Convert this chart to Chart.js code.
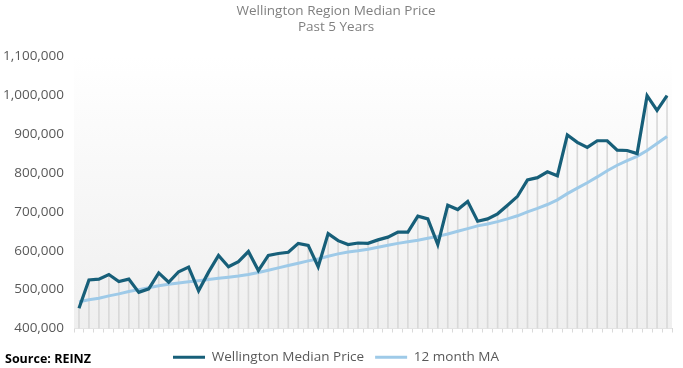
<!DOCTYPE html>
<html>
<head>
<meta charset="utf-8">
<script src="https://cdn.jsdelivr.net/npm/chart.js@4/dist/chart.umd.min.js"></script>
<style>
  html, body { margin: 0; padding: 0; background: #fff; }
  #wrap { position: relative; width: 683px; height: 368px; }
  #source {
    position: absolute; left: 5px; top: 350px;
    font: bold 12.5px "Open Sans", sans-serif; color: #000;
  }
</style>
</head>
<body>
<div id="wrap">
  <canvas id="chart"></canvas>
  <div id="source">Source: REINZ</div>
</div>
<script>
const months = [
  "Apr-16","May-16","Jun-16","Jul-16","Aug-16","Sep-16","Oct-16","Nov-16","Dec-16",
  "Jan-17","Feb-17","Mar-17","Apr-17","May-17","Jun-17","Jul-17","Aug-17","Sep-17","Oct-17","Nov-17","Dec-17",
  "Jan-18","Feb-18","Mar-18","Apr-18","May-18","Jun-18","Jul-18","Aug-18","Sep-18","Oct-18","Nov-18","Dec-18",
  "Jan-19","Feb-19","Mar-19","Apr-19","May-19","Jun-19","Jul-19","Aug-19","Sep-19","Oct-19","Nov-19","Dec-19",
  "Jan-20","Feb-20","Mar-20","Apr-20","May-20","Jun-20","Jul-20","Aug-20","Sep-20","Oct-20","Nov-20","Dec-20",
  "Jan-21","Feb-21","Mar-21"
];

// monthly median price
const medianPrice = [
  452000, 525000, 527000, 539000, 521000, 527000, 493000, 502000, 543000, 519000,
  546000, 558000, 497000, 545000, 588000, 559000, 572000, 598000, 549000, 588000,
  593000, 596000, 619000, 614000, 559000, 644000, 626000, 616000, 620000, 619000,
  628000, 635000, 648000, 648000, 689000, 682000, 616000, 717000, 706000, 727000,
  676000, 682000, 695000, 717000, 740000, 782000, 788000, 803000, 793000, 898000,
  879000, 866000, 883000, 883000, 859000, 858000, 850000, 999000, 961000, 999000
];

// 12 month moving average
const movingAvg = [
  469000, 474000, 478000, 484000, 489000, 495000, 500000, 505000, 510000, 514000,
  517000, 520000, 523000, 526000, 529000, 532000, 535000, 539000, 544000, 550000,
  556000, 562000, 568000, 574000, 579000, 586000, 592000, 597000, 600000, 604000,
  609000, 614000, 619000, 623000, 627000, 632000, 637000, 643000, 650000, 657000,
  664000, 669000, 675000, 682000, 690000, 700000, 709000, 719000, 731000, 747000,
  761000, 775000, 790000, 806000, 820000, 832000, 843000, 858000, 876000, 894000
];

const darkBlue = "#175f79";
const lightBlue = "#9ecae8";

// soft grey fade behind the plot
const plotBackground = {
  id: "plotBackground",
  beforeDatasetsDraw(chart) {
    const { ctx, chartArea: a } = chart;
    const g = ctx.createLinearGradient(0, a.top, 0, a.bottom);
    g.addColorStop(0, "#ffffff");
    g.addColorStop(1, "#efefef");
    ctx.save();
    ctx.fillStyle = g;
    ctx.fillRect(a.left, a.top, a.right - a.left, a.bottom - a.top);
    ctx.restore();
  }
};

new Chart(document.getElementById("chart"), {
  data: {
    labels: months,
    datasets: [
      {
        type: "line",
        label: "Wellington Median Price",
        data: medianPrice,
        borderColor: darkBlue,
        backgroundColor: darkBlue,
        borderWidth: 3.2,
        pointRadius: 0,
        tension: 0,
        order: 1
      },
      {
        type: "line",
        label: "12 month MA",
        data: movingAvg,
        borderColor: lightBlue,
        backgroundColor: lightBlue,
        borderWidth: 3,
        pointRadius: 0,
        tension: 0,
        order: 2
      },
      {
        // drop lines under the median
        type: "bar",
        label: "drop",
        data: medianPrice,
        backgroundColor: "#d9d9d9",
        barThickness: 1,
        order: 3
      }
    ]
  },
  options: {
    responsive: true,
    maintainAspectRatio: false,
    animation: false,
    layout: { padding: { left: 0, right: 11, top: 0, bottom: -6 } },
    plugins: {
      title: {
        display: true,
        text: ["Wellington Region Median Price", "Past 5 Years"],
        color: "#808080",
        font: { family: "'Open Sans', sans-serif", size: 13.5, weight: "normal", lineHeight: 1.2 },
        padding: { top: 3, bottom: 21 }
      },
      legend: {
        position: "bottom",
        labels: {
          filter: (item) => item.text !== "drop",
          color: "#595959",
          font: { family: "'Open Sans', sans-serif", size: 13.5 },
          usePointStyle: true,
          pointStyle: "line",
          pointStyleWidth: 32,
          boxWidth: 32,
          padding: 11
        }
      },
      tooltip: { enabled: false }
    },
    scales: {
      x: {
        offset: true,
        afterFit: (s) => { s.height = 11; },
        grid: { display: true, drawOnChartArea: false, drawTicks: true, tickLength: 4, color: "#d9d9d9" },
        border: { display: true, color: "#d9d9d9" },
        ticks: { display: false }
      },
      y: {
        min: 400000,
        max: 1100000,
        afterFit: (s) => { s.width = 74; },
        grid: { display: false, drawTicks: false },
        border: { display: false },
        ticks: {
          stepSize: 100000,
          padding: 10,
          color: "#595959",
          font: { family: "'Open Sans', sans-serif", size: 13.5 },
          callback: (v) => v.toLocaleString("en-US")
        }
      }
    }
  },
  plugins: [plotBackground]
});
</script>
</body>
</html>
